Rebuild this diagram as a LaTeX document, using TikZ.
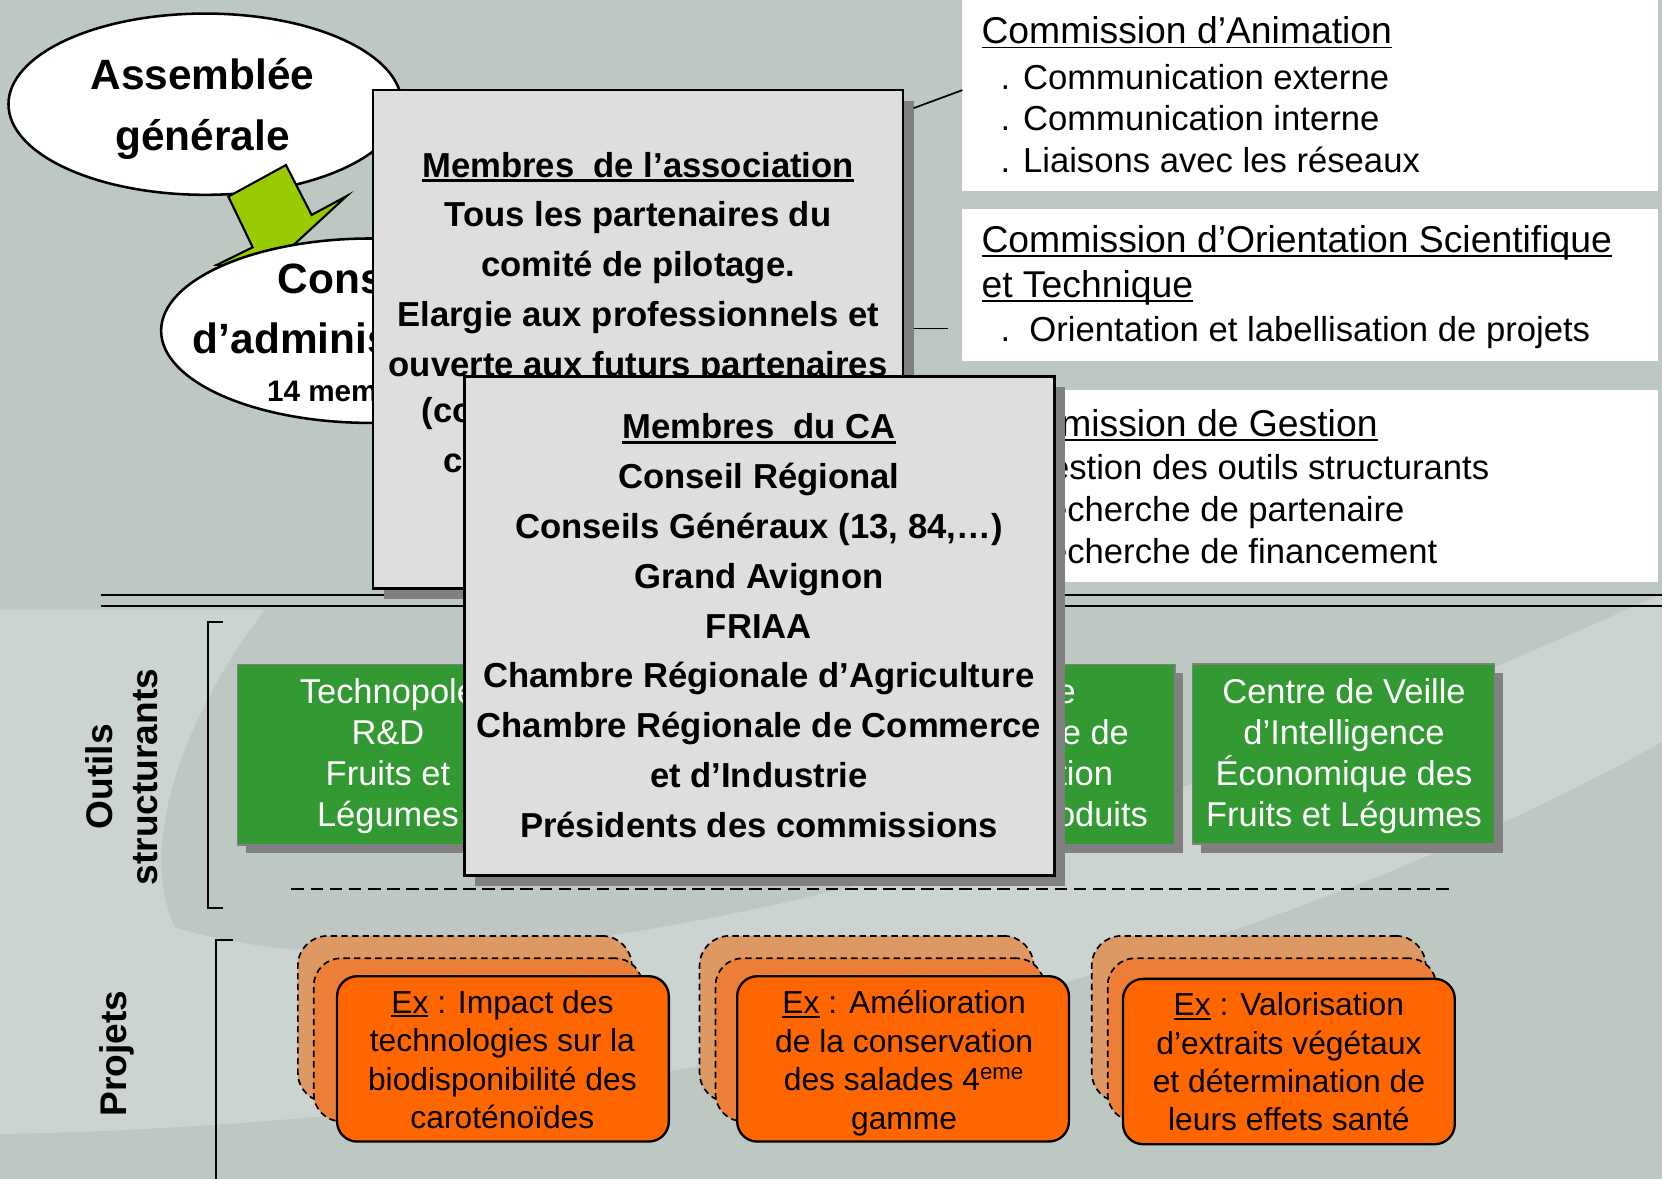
\documentclass[tikz,border=0pt]{standalone}
\usepackage{fontspec}
\setmainfont{Liberation Sans}
\usetikzlibrary{shadows,shapes.geometric}

\definecolor{bgdark}{RGB}{190,200,195}
\definecolor{bglight}{RGB}{203,212,208}
\definecolor{boxgray}{RGB}{222,222,222}
\definecolor{shadowgray}{RGB}{128,128,128}
\definecolor{toolgreen}{RGB}{51,153,51}
\definecolor{arrowgreen}{RGB}{153,204,0}
\definecolor{orfront}{RGB}{255,102,0}
\definecolor{orbackA}{RGB}{222,152,100}
\definecolor{orbackB}{RGB}{236,126,56}

\newcommand{\fsz}[2]{\fontsize{#1}{#2}\selectfont}
\newcommand{\ulbox}[3]{\leavevmode\setbox0=\hbox{#3}\rlap{\rule[-#1]{\wd0}{#2}}\box0\relax}

\tikzset{
  sepline/.style={line width=1pt, draw=black},
  conn/.style={line width=0.8pt, draw=black},
  greybox/.style={draw=black, line width=1.2pt, fill=boxgray, anchor=north west,
    drop shadow={shadow xshift=5pt, shadow yshift=-5pt, opacity=1, fill=shadowgray}},
  combox/.style={fill=white, anchor=north west, minimum width=328pt},
  comtitle/.style={anchor=base west, font=\fsz{17.6}{20}},
  comitem/.style={anchor=base west, font=\fsz{16.35}{20}},
  boxtext/.style={align=center, font=\fsz{16.35}{23.5}\bfseries},
  ovalbox/.style={ellipse, draw=black, line width=1.2pt, fill=white},
  ovaltext/.style={align=center, font=\fsz{20}{28.6}\bfseries},
  ovalfrag/.style={anchor=base west, font=\fsz{20}{28.6}\bfseries},
  toolbox/.style={fill=toolgreen, draw=shadowgray, line width=0.8pt, anchor=north west,
    minimum height=85pt,
    drop shadow={shadow xshift=4pt, shadow yshift=-4pt, opacity=1, fill=shadowgray}},
  tooltext/.style={align=center, text=white, font=\fsz{16.25}{19.4}},
  toolfrag/.style={anchor=base east, text=white, font=\fsz{16.25}{19.4}},
  orbA/.style={fill=orbackA, draw=black, line width=0.8pt, dash pattern=on 3pt off 2pt,
    rounded corners=14pt, minimum width=157.5pt, minimum height=78.5pt},
  orbB/.style={fill=orbackB, draw=black, line width=0.8pt, dash pattern=on 3pt off 2pt,
    rounded corners=13pt, minimum width=155pt, minimum height=77pt},
  orf/.style={fill=orfront, draw=black, line width=1.1pt, rounded corners=9.5pt,
    minimum width=156.5pt, minimum height=78pt},
  ortext/.style={align=center, font=\fsz{15}{18.1}},
  sidelabel/.style={rotate=90, align=center, font=\fsz{17.5}{21}\bfseries},
}

\begin{document}
\begin{tikzpicture}[x=0.5pt,y=-0.5pt, every node/.append style={inner sep=0pt, outer sep=0pt}]
\useasboundingbox (0,0) rectangle (1568,1112);
% background
\fill[bgdark] (0,0) rectangle (1568,1112);
\fill[bglight] (0,575) -- (250,575) .. controls (170,680) and (130,800) .. (165,875)
  .. controls (450,960) and (1000,820) .. (1568,560) -- (1568,700)
  .. controls (1100,960) and (500,1060) .. (0,1070) -- cycle;

% separators and brackets
\draw[sepline] (95,561) -- (1568,561);
\draw[sepline] (95,572) -- (1568,572);
\draw[sepline, dash pattern=on 6pt off 3pt] (275,839) -- (1368,839);
\draw[sepline] (210,587) -- (196,587) -- (196,857) -- (210,857);
\draw[sepline] (220,887) -- (204,887) -- (204,1112);

% side labels
\node[sidelabel] (outils) at (115,733) {Outils\\structurants};
\node[sidelabel] (projets) at (110.5,994) {Projets};

% commission boxes
\node[combox, minimum height=90pt] (comA) at (908,0) {};
\node[combox, minimum height=72pt] (comB) at (908,197) {};
\node[combox, minimum height=90.5pt] (comC) at (908,368) {};

\node[comtitle] (cA0) at (926,41.5) {\ulbox{0.12em}{0.05em}{Commission d’Animation}};
\node[comitem] (cA1) at (944,84) {. Communication externe};
\node[comitem] (cA2) at (944,123.5) {. Communication interne};
\node[comitem] (cA3) at (944,162.5) {. Liaisons avec les réseaux};

\node[comtitle] (cB0) at (926,238.5) {\ulbox{0.12em}{0.05em}{Commission d’Orientation Scientifique}};
\node[comtitle] (cB1) at (926,280.5) {\ulbox{0.12em}{0.05em}{et Technique}};
\node[comitem] (cB2) at (944,322.5) {.\ \ Orientation et labellisation de projets};

\node[comtitle] (cC0) at (926,411.5) {\ulbox{0.12em}{0.05em}{Commission de Gestion}};
\node[comitem] (cC1) at (944,452) {. Gestion des outils structurants};
\node[comitem] (cC2) at (944,491.7) {. Recherche de partenaire};
\node[comitem] (cC3) at (944,531.4) {. Recherche de financement};

% Assemblee generale
\node[ovalbox, minimum width=185.5pt, minimum height=85.5pt] (ag) at (193.5,98.3) {};
\node[ovaltext, anchor=north] (agt) at (191,55.5) {Assemblée\\générale};

% green arrow
\draw[fill=arrowgreen, line width=1pt, line join=miter]
  (215.4,185.5) -- (269.8,155.7) -- (294,202.8) -- (327,185) -- (250,256)
  -- (204.4,250) -- (238.4,233.3) -- cycle;

% Conseil d'administration (partly hidden by the box)
\node[ovalbox, minimum width=198pt, minimum height=87pt] (cae) at (350,312) {};
\node[ovalfrag] (caet1) at (262,276.7) {Cons};
\node[ovalfrag] (caet2) at (182,333.3) {d’adminis};
\node[anchor=base west, font=\fsz{14}{17}\bfseries] (caem) at (252,379) {14 mem};

% association box
\node[greybox, minimum width=250pt, minimum height=235pt] (assoc) at (352,85) {};
\node[boxtext, anchor=north] (assoct) at (602,143.3)
  {\ulbox{0.14em}{0.09em}{Membres\ \ de l’association}\\Tous les partenaires du\\comité de pilotage.\\Elargie aux professionnels et\\ouverte aux futurs partenaires};
\node[anchor=base west, font=\fsz{16.35}{23.5}\bfseries] (assocx) at (398,399) {(co};
\node[anchor=base west, font=\fsz{16.35}{23.5}\bfseries] (assocy) at (418,446) {c};

\draw[conn] ([shift={(10,17)}]assoc.north east) -- ([shift={(0,85)}]comA.north west);
\draw[conn] ([shift={(10,225)}]assoc.north east) -- ++(32,0);

% outils structurants
\node[toolbox, minimum width=142pt] (tool1) at (224,627) {};
\node[tooltext, anchor=north] (tool1t) at (366,640.2) {Technopole\\R\&D\\Fruits et\\Légumes};
\node[toolbox, minimum width=141.75pt] (tool3) at (825,627) {};
\node[toolfrag] (tool3a) at (1015,663.5) {e};
\node[toolfrag] (tool3b) at (1065,702.3) {e de};
\node[toolfrag] (tool3c) at (1050,741.1) {tion};
\node[toolfrag] (tool3d) at (1083,779.9) {oduits};
\node[toolbox, minimum width=142.5pt] (tool4) at (1125,626.5) {};
\node[tooltext, anchor=north] (tool4t) at (1268,640.2) {Centre de Veille\\d’Intelligence\\Économique des\\Fruits et Légumes};

% CA box
\node[greybox, minimum width=278.5pt, minimum height=235.5pt] (cabox) at (438,355) {};
\node[boxtext, anchor=north] (cat) at (716,390.3)
  {\ulbox{0.14em}{0.09em}{Membres\ \ du CA}\\Conseil Régional\\Conseils Généraux (13, 84,…)\\Grand Avignon\\FRIAA\\Chambre Régionale d’Agriculture\\Chambre Régionale de Commerce\\et d’Industrie\\Présidents des commissions};

% projets
\node[orbA] (p1a) at (438.5,961.5) {};
\node[orbB] (p1b) at (451,981) {};
\node[orf] (p1f) at (474.5,999) {};
\node[ortext, anchor=north] (p1t) at (474,934.5)
  {\ulbox{0.12em}{0.06em}{Ex} : Impact des\\technologies sur la\\biodisponibilité des\\caroténoïdes};

\node[orbA] (p2a) at (817.5,961.5) {};
\node[orbB] (p2b) at (830,981) {};
\node[orf] (p2f) at (852,999) {};
\node[ortext, anchor=north] (p2t) at (853,934.5)
  {\ulbox{0.12em}{0.06em}{Ex} : Amélioration\\de la conservation\\des salades 4\textsuperscript{eme}\\gamme};

\node[orbA] (p3a) at (1187.5,961.5) {};
\node[orbB] (p3b) at (1200,981) {};
\node[orf] (p3f) at (1216,1001.5) {};
\node[ortext, anchor=north] (p3t) at (1216,936.5)
  {\ulbox{0.12em}{0.06em}{Ex} : Valorisation\\d’extraits végétaux\\et détermination de\\leurs effets santé};
\end{tikzpicture}
\end{document}
